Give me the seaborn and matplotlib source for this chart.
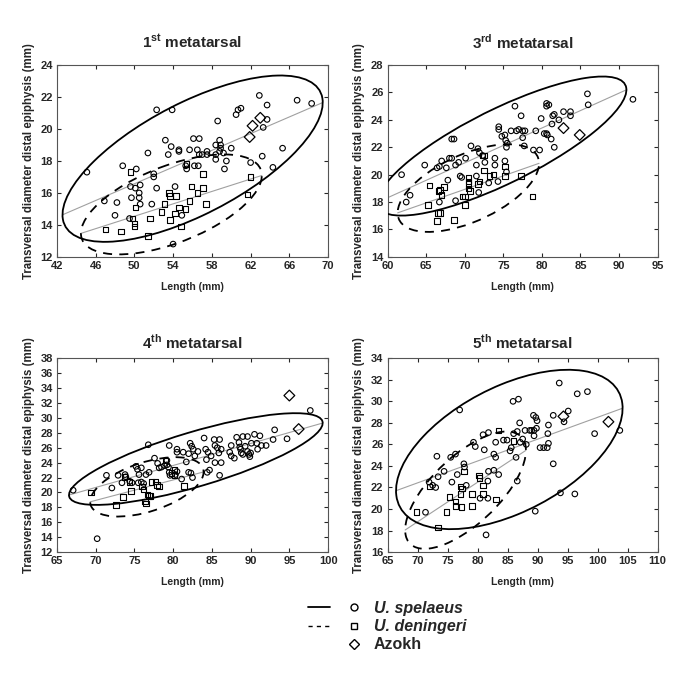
import numpy as np
import matplotlib
matplotlib.use("Agg")
import matplotlib.pyplot as plt
import seaborn as sns
from matplotlib.patches import Ellipse
from matplotlib.lines import Line2D
from matplotlib.legend_handler import HandlerTuple

# 1st metatarsal
p1_sp_x = [45.1, 46.9, 48.2, 48.0, 48.8, 49.6, 49.7, 49.5, 50.2, 50.1, 50.5, 50.5, 50.6, 50.6, 51.4, 51.8,
           52.0, 52.0, 52.3, 52.3, 53.2, 53.5, 53.8, 53.9, 54.2, 54.0, 54.6, 54.6, 54.9, 55.3, 55.4, 55.7,
           56.1, 56.2, 56.5, 56.6, 56.7, 56.7, 57.0, 57.5, 57.5, 58.4, 58.4, 58.4, 58.6, 58.8, 58.9, 58.9,
           58.8, 59.2, 59.3, 59.5, 60.0, 60.5, 60.7, 61.0, 62.0, 62.9, 63.2, 63.3, 63.7, 63.7, 64.3, 65.3,
           66.8, 68.3]
p1_sp_y = [17.3, 15.5, 15.4, 14.6, 17.7, 16.4, 15.7, 14.4, 17.5, 16.3, 16.0, 15.7, 15.3, 16.5, 18.5, 15.3,
           17.2, 17.0, 21.2, 16.3, 19.3, 18.4, 18.9, 21.2, 16.4, 12.8, 18.7, 18.6, 14.6, 17.7, 17.5, 18.7,
           19.4, 17.7, 18.7, 17.7, 19.4, 18.4, 18.4, 18.6, 18.4, 19.0, 18.4, 18.1, 20.5, 19.3, 19.0, 18.8,
           18.6, 18.5, 17.5, 18.0, 18.8, 20.9, 21.2, 21.3, 17.9, 22.1, 18.3, 20.1, 20.6, 21.5, 17.6, 18.8,
           21.8, 21.6]
p1_den_x = [47.0, 48.6, 49.6, 49.8, 50.0, 50.0, 50.1, 51.4, 51.6, 52.8, 53.1, 53.6, 53.7, 53.7, 54.2, 54.3,
            54.6, 54.8, 55.3, 55.4, 55.7, 55.9, 56.5, 57.1, 57.1, 57.4, 61.7, 62.0]
p1_den_y = [13.7, 13.6, 17.3, 14.4, 14.1, 13.9, 15.1, 13.3, 14.4, 14.8, 15.3, 16.0, 15.8, 14.3, 14.7, 15.8,
            15.1, 13.9, 15.0, 17.8, 15.5, 16.4, 16.0, 17.2, 16.3, 15.3, 15.9, 17.0]
p1_az_x = [61.9, 62.2, 63.0]
p1_az_y = [19.5, 20.2, 20.7]

# 3rd metatarsal
p2_sp_x = [61.8, 62.4, 62.9, 64.8, 66.4, 66.7, 67.0, 67.6, 68.0, 68.3, 68.3, 68.6, 68.8, 69.2, 67.8, 66.7,
           68.8, 69.4, 69.6, 70.1, 70.8, 71.5, 71.5, 71.7, 71.9, 72.3, 71.8, 73.9, 73.9, 74.3, 74.4, 74.4,
           74.8, 75.2, 75.3, 75.5, 75.2, 75.4, 75.4, 76.0, 76.5, 77.3, 76.7, 77.0, 77.5, 77.8, 77.5, 77.7,
           79.2, 78.9, 79.7, 80.6, 79.9, 80.6, 80.6, 80.9, 81.4, 81.6, 81.3, 82.2, 82.8, 83.7, 83.7, 80.3,
           80.7, 81.2, 85.9, 86.0, 91.8, 73.1, 72.6, 81.6]
p2_sp_y = [20.0, 18.0, 18.5, 20.7, 20.5, 20.6, 21.0, 20.5, 21.2, 21.2, 22.6, 22.6, 20.7, 20.9, 19.6, 18.0,
           18.1, 19.9, 19.8, 21.2, 22.1, 20.7, 19.9, 21.9, 21.6, 21.4, 18.7, 21.2, 20.7, 19.5, 23.5, 23.3,
           22.8, 22.9, 22.5, 22.3, 21.0, 20.2, 22.0, 23.2, 25.0, 24.3, 23.2, 23.3, 23.2, 23.2, 22.7, 22.1,
           23.2, 21.8, 21.8, 23.0, 24.1, 25.2, 25.0, 25.1, 24.3, 24.4, 23.7, 24.0, 24.6, 24.6, 24.3, 23.0,
           22.9, 22.6, 25.9, 25.1, 25.5, 19.4, 20.9, 22.0]
p2_den_x = [65.4, 65.2, 66.6, 66.8, 67.0, 67.3, 66.5, 66.8, 66.4, 68.6, 69.7, 70.0, 70.0, 70.5, 70.5, 70.5,
            70.5, 70.7, 71.7, 71.9, 72.3, 72.5, 72.5, 73.2, 73.7, 75.2, 75.2, 77.3, 78.8]
p2_den_y = [19.2, 17.8, 18.8, 18.9, 18.5, 19.1, 17.2, 17.2, 16.6, 16.7, 18.4, 18.4, 17.8, 19.8, 19.5, 19.3,
            19.0, 18.8, 19.3, 19.5, 21.4, 21.4, 20.3, 19.9, 20.0, 20.6, 19.9, 19.9, 18.4]
p2_az_x = [82.8, 84.9]
p2_az_y = [23.4, 22.9]

# 4th metatarsal
p3_sp_x = [67.1, 70.2, 71.4, 72.1, 72.9, 73.4, 73.8, 73.9, 74.4, 74.7, 75.2, 75.4, 75.6, 75.9, 75.5, 75.9,
           76.2, 76.5, 76.8, 76.9, 77.6, 78.0, 78.2, 78.5, 78.9, 79.2, 79.4, 79.2, 79.5, 79.6, 79.5, 80.5,
           80.3, 80.5, 80.5, 81.3, 81.1, 81.7, 82.0, 82.3, 82.0, 82.2, 82.4, 82.5, 82.6, 82.8, 83.2, 84.0,
           84.2, 84.3, 84.4, 84.7, 84.5, 84.9, 85.3, 85.4, 85.7, 85.9, 85.4, 86.0, 86.2, 86.2, 86.0, 87.3,
           87.5, 87.9, 87.5, 88.2, 88.5, 88.6, 88.7, 88.8, 89.0, 89.0, 89.3, 89.6, 89.6, 89.8, 89.9, 90.0,
           90.1, 90.5, 90.8, 90.9, 91.2, 91.4, 92.0, 93.1, 92.9, 94.7, 97.7]
p3_sp_y = [20.3, 13.8, 22.3, 20.6, 22.3, 21.3, 22.4, 22.1, 21.5, 21.3, 23.5, 23.1, 22.4, 23.3, 21.3, 21.4,
           21.2, 22.4, 26.4, 22.7, 24.6, 23.9, 23.3, 23.4, 23.6, 23.7, 23.4, 24.3, 26.3, 22.3, 22.7, 22.8,
           22.4, 25.8, 25.4, 25.4, 21.8, 24.1, 22.7, 22.6, 25.2, 26.6, 26.2, 22.0, 25.8, 24.9, 25.5, 27.3,
           25.8, 24.4, 22.7, 23.0, 25.4, 24.9, 27.1, 26.3, 26.0, 25.3, 24.0, 27.1, 25.8, 24.0, 22.3, 25.4,
           24.9, 24.6, 26.3, 27.4, 26.7, 26.1, 25.8, 25.3, 25.1, 27.5, 26.2, 25.5, 27.5, 25.1, 24.8, 25.3,
           26.6, 27.8, 26.6, 25.8, 27.6, 26.3, 26.3, 28.4, 27.1, 27.2, 31.0]
p3_den_x = [69.4, 72.6, 73.5, 73.7, 74.4, 74.6, 76.0, 76.2, 76.4, 76.5, 76.7, 76.9, 77.1, 77.2, 77.7, 77.9,
            78.2, 79.0, 79.8, 80.2, 80.2, 81.4]
p3_den_y = [20.0, 18.3, 19.4, 22.1, 21.4, 20.2, 20.8, 20.4, 18.8, 18.5, 19.7, 19.5, 19.5, 21.4, 21.5, 21.0,
            20.8, 24.3, 22.6, 23.1, 22.3, 20.9]
p3_az_x = [95.0, 96.2]
p3_az_y = [33.0, 28.5]

# 5th metatarsal
p4_sp_x = [71.3, 71.9, 73.2, 73.4, 74.4, 75.5, 75.7, 76.3, 76.6, 77.0, 77.8, 77.7, 78.1, 79.3, 79.6, 80.4,
           80.9, 81.1, 81.4, 81.7, 81.8, 81.8, 81.7, 82.7, 83.0, 83.0, 82.7, 83.5, 84.3, 84.9, 85.4, 85.6,
           86.0, 86.4, 86.6, 86.6, 87.0, 87.5, 87.1, 87.9, 88.1, 88.7, 89.0, 89.4, 89.3, 89.7, 89.9, 89.8,
           89.4, 90.4, 91.0, 91.6, 91.8, 91.7, 91.8, 92.6, 92.6, 93.6, 93.8, 95.1, 94.4, 96.2, 96.6, 98.3,
           99.5, 103.7, 89.6, 85.9, 86.8, 72.5, 73.0]
p4_sp_y = [19.7, 22.5, 24.9, 23.0, 23.5, 24.8, 22.5, 25.1, 23.2, 29.2, 23.9, 24.2, 22.2, 26.2, 25.8, 21.0,
           26.9, 25.5, 17.6, 21.0, 27.1, 23.5, 22.6, 25.1, 24.8, 26.2, 23.6, 23.2, 26.4, 26.4, 25.4, 25.7,
           27.0, 24.8, 22.6, 27.2, 28.0, 26.5, 26.2, 27.3, 26.0, 27.3, 27.3, 27.3, 28.7, 28.5, 28.2, 27.5,
           26.8, 25.7, 25.7, 25.7, 26.1, 27.0, 27.8, 28.7, 24.2, 31.7, 21.5, 29.1, 28.1, 21.4, 30.7, 30.9,
           27.0, 27.3, 19.8, 30.0, 30.2, 22.2, 22.0]
p4_den_x = [69.8, 72.0, 73.4, 74.8, 75.3, 76.3, 76.3, 77.1, 77.4, 77.1, 77.3, 77.7, 79.1, 79.1, 80.2, 80.3,
            80.9, 80.9, 83.1, 83.5, 86.0]
p4_den_y = [19.7, 22.1, 18.3, 19.7, 21.1, 20.7, 20.3, 22.1, 21.9, 21.4, 20.2, 23.5, 21.4, 20.3, 23.1, 22.9,
            22.2, 21.4, 20.9, 27.3, 26.3]
p4_az_x = [94.3, 101.8]
p4_az_y = [28.6, 28.1]

titles = ["1", "3", "4", "5"]
suffix = ["st", "rd", "th", "th"]
xlims = [(42, 70, 4), (60, 95, 5), (65, 100, 5), (65, 110, 5)]
ylims = [(12, 24, 2), (14, 28, 2), (12, 38, 2), (16, 34, 2)]

sns.set_style("ticks")
plt.rcParams["font.family"] = ["Liberation Sans", "DejaVu Sans"]
plt.rcParams["mathtext.fontset"] = "custom"
plt.rcParams["mathtext.bf"] = "Liberation Sans:bold"
plt.rcParams["mathtext.rm"] = "Liberation Sans:bold"

K = 2.6  # prediction ellipse scale (~95%)


def draw_group(ax, x, y, marker, ls):
    x = np.asarray(x)
    y = np.asarray(y)
    sns.scatterplot(x=x, y=y, marker=marker, s=16, facecolors="none", edgecolor="black",
                    linewidth=0.8, ax=ax, zorder=3)
    cov = np.cov(x, y)
    vals, vecs = np.linalg.eigh(cov)
    order = vals.argsort()[::-1]
    vals, vecs = vals[order], vecs[:, order]
    angle = np.degrees(np.arctan2(vecs[1, 0], vecs[0, 0]))
    ax.add_patch(Ellipse((x.mean(), y.mean()), 2 * K * np.sqrt(vals[0]), 2 * K * np.sqrt(vals[1]),
                         angle=angle, fill=False, ls=ls, lw=1.3, color="black", zorder=4))
    slope, icpt = np.polyfit(x, y, 1)
    half = K * np.sqrt(cov[0, 0])
    xs = np.array([x.mean() - half, x.mean() + half])
    ax.plot(xs, slope * xs + icpt, color="#a0a0a0", lw=0.8, zorder=2)


fig = plt.figure(figsize=(6.85, 6.85), dpi=100)
positions = [(0.083, 0.625, 0.396, 0.280), (0.566, 0.625, 0.394, 0.280),
             (0.083, 0.194, 0.396, 0.283), (0.566, 0.194, 0.394, 0.283)]
groups = [
    (p1_sp_x, p1_sp_y, p1_den_x, p1_den_y, p1_az_x, p1_az_y),
    (p2_sp_x, p2_sp_y, p2_den_x, p2_den_y, p2_az_x, p2_az_y),
    (p3_sp_x, p3_sp_y, p3_den_x, p3_den_y, p3_az_x, p3_az_y),
    (p4_sp_x, p4_sp_y, p4_den_x, p4_den_y, p4_az_x, p4_az_y),
]

for i, pos in enumerate(positions):
    ax = fig.add_axes(pos)
    spx, spy, dnx, dny, azx, azy = groups[i]
    draw_group(ax, spx, spy, "o", "-")
    draw_group(ax, dnx, dny, "s", (0, (5, 4)))
    sns.scatterplot(x=azx, y=azy, marker="D", s=30, facecolors="none", edgecolor="black",
                    linewidth=0.9, ax=ax, zorder=5)
    x0, x1, dx = xlims[i]
    y0, y1, dy = ylims[i]
    ax.set_xlim(x0, x1)
    ax.set_ylim(y0, y1)
    ax.set_xticks(np.arange(x0, x1 + 0.1, dx))
    ax.set_yticks(np.arange(y0, y1 + 0.1, dy))
    ax.tick_params(direction="in", top=True, right=True, length=3, width=0.8, labelsize=8, pad=3)
    for lab in ax.get_xticklabels() + ax.get_yticklabels():
        lab.set_fontweight("bold")
    for sp in ax.spines.values():
        sp.set_linewidth(0.8)
        sp.set_color("#555555")
    ax.set_xlabel("Length (mm)", fontsize=7.5, fontweight="bold", labelpad=8)
    ax.set_ylabel("Transversal diameter distal epiphysis (mm)", fontsize=8.3, fontweight="bold", labelpad=4)
    ax.set_title(titles[i] + r"$^{\mathbf{" + suffix[i] + "}}$ metatarsal",
                 fontsize=11, fontweight="bold", pad=12 if i < 2 else 7)

h1 = (Line2D([], [], color="black", lw=1.3),
      Line2D([], [], ls="none", marker="o", mfc="none", mec="black", ms=5))
h2 = (Line2D([], [], color="black", lw=1.0, ls=(0, (3, 3))),
      Line2D([], [], ls="none", marker="s", mfc="none", mec="black", ms=5))
h3 = (Line2D([], [], color="none"),
      Line2D([], [], ls="none", marker="D", mfc="none", mec="black", ms=5))
leg = fig.legend([h1, h2, h3], ["U. spelaeus", "U. deningeri", "Azokh"],
                 handler_map={tuple: HandlerTuple(ndivide=None, pad=0.8)},
                 frameon=False, loc="center", bbox_to_anchor=(0.565, 0.085),
                 handlelength=3.6, handletextpad=0.5, labelspacing=0.2,
                 prop={"size": 11.5, "weight": "bold"})
leg.get_texts()[0].set_style("italic")
leg.get_texts()[1].set_style("italic")

fig.savefig("out.png", dpi=100)
